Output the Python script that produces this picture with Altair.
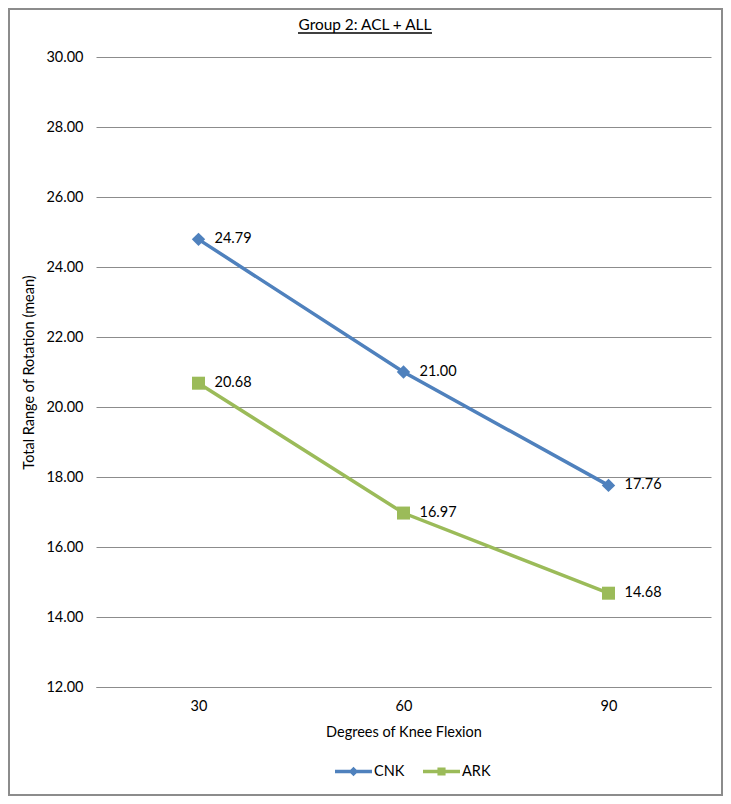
import altair as alt
import pandas as pd

degrees = ["30", "60", "90"]
series = ["CNK", "ARK"]
cnk_values = [24.79, 21.00, 17.76]
ark_values = [20.68, 16.97, 14.68]
y_ticks = [12, 14, 16, 18, 20, 22, 24, 26, 28, 30]
colors = ["#4F81BD", "#9BBB59"]

rows = []
for s, vals in zip(series, [cnk_values, ark_values]):
    for d, v in zip(degrees, vals):
        rows.append({"deg": d, "series": s, "val": v})
df = pd.DataFrame(rows)

FONT = "Lato"
FS = 14.5
GRID = "#8C8C8C"

# legend symbols: line + marker
leg_cnk = "M-1,-0.09L1,-0.09L1,0.09L-1,0.09Z M0,-0.26L0.26,0L0,0.26L-0.26,0Z"
leg_ark = "M-1,-0.09L1,-0.09L1,0.09L-1,0.09Z M-0.22,-0.22L0.22,-0.22L0.22,0.22L-0.22,0.22Z"

x_enc = alt.X("deg:N", sort=degrees, scale=alt.Scale(type="point", padding=0.5),
              axis=alt.Axis(title="Degrees of Knee Flexion", labelAngle=0, ticks=False,
                            domainColor=GRID, domainWidth=1, labelPadding=12,
                            titlePadding=13))
y_enc = alt.Y("val:Q", scale=alt.Scale(domain=[12, 30], nice=False, zero=False),
              axis=alt.Axis(values=y_ticks, format=".2f", grid=True, gridColor=GRID,
                            gridWidth=1, domain=False, ticks=False, labelPadding=13,
                            title="Total Range of Rotation (mean)", titleX=-67,
                            titleY=315, titleAngle=-90, titleBaseline="middle",
                            titleAlign="center"))
color_enc = alt.Color("series:N", scale=alt.Scale(domain=series, range=colors), legend=None)

base = alt.Chart(df)

lines = base.mark_line(strokeWidth=3.5).encode(x=x_enc, y=y_enc, color=color_enc)

pts_cnk = base.transform_filter(alt.datum.series == "CNK").mark_point(
    shape="diamond", filled=True, size=180, opacity=1).encode(x=x_enc, y=y_enc, color=color_enc)
pts_ark = base.transform_filter(alt.datum.series == "ARK").mark_point(
    shape="square", filled=True, size=169, opacity=1).encode(x=x_enc, y=y_enc, color=color_enc)

labels = base.mark_text(align="left", baseline="middle", dx=16, font=FONT,
                        fontSize=FS, color="#000000").encode(
    x=x_enc, y=y_enc, text=alt.Text("val:Q", format=".2f"))

leg = alt.Legend(title=None, orient="none", legendX=239, legendY=696,
                 direction="horizontal", symbolSize=1369,
                 symbolStrokeWidth=0, labelOffset=2,
                 columnPadding=18, labelFont=FONT,
                 labelFontSize=FS, labelColor="#000000")
legend_layer = base.transform_filter("false").mark_point(filled=True, opacity=1).encode(
    x=x_enc, y=y_enc,
    color=alt.Color("series:N", scale=alt.Scale(domain=series, range=colors), legend=leg),
    shape=alt.Shape("series:N", scale=alt.Scale(domain=series, range=[leg_cnk, leg_ark]),
                    legend=leg),
)

title_df = pd.DataFrame({"t": ["Group 2: ACL + ALL"]})
title_text = alt.Chart(title_df).mark_text(
    font=FONT, fontSize=15.4, align="center", baseline="alphabetic", color="#000000"
).encode(text="t:N", x=alt.value(269), y=alt.value(-27))
underline = alt.Chart(title_df).mark_rule(color="#000000", strokeWidth=1.3).encode(
    x=alt.value(202), x2=alt.value(336), y=alt.value(-24))

border = alt.Chart(title_df).mark_rect(fill=None, stroke="#8C8C8C", strokeWidth=2).encode(
    x=alt.value(-87), x2=alt.value(626), y=alt.value(-48), y2=alt.value(738))

chart = alt.layer(border, lines, pts_cnk, pts_ark, labels, legend_layer, title_text, underline).resolve_legend(
    color="independent", shape="independent"
).properties(
    width=615, height=630,
    autosize=alt.AutoSizeParams(type="none"),
    padding={"left": 88, "top": 49, "right": 12, "bottom": 109},
).configure_view(stroke=None).configure_axis(
    labelFont=FONT, labelFontSize=FS, labelColor="#000000",
    titleFont=FONT, titleFontSize=FS, titleColor="#000000", titleFontWeight="normal"
)

chart.save("out.html", embed_options={"renderer": "svg", "actions": False})
